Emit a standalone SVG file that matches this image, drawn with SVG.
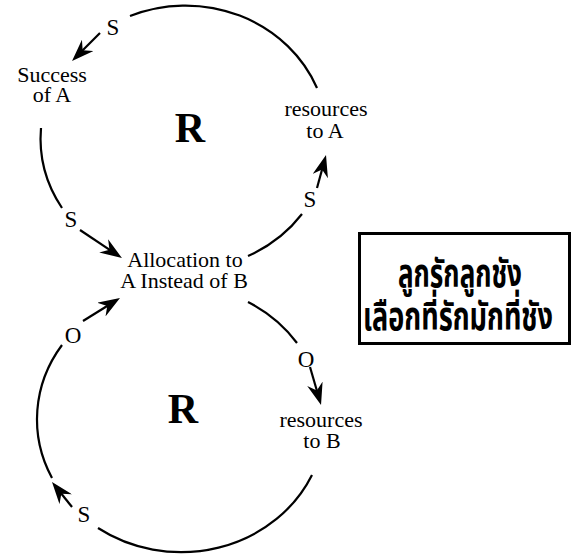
<svg xmlns="http://www.w3.org/2000/svg" width="577" height="556" viewBox="0 0 577 556">
  <style>
    .lbl { font-family: "Liberation Serif", "Times New Roman", serif; font-size: 22px; fill: #000; text-anchor: middle; }
    .loop { font-family: "Liberation Serif", "Times New Roman", serif; font-size: 42px; font-weight: bold; fill: #000; text-anchor: middle; }
    .pol { font-family: "Liberation Serif", "Times New Roman", serif; font-size: 23px; fill: #000; text-anchor: middle; }
    .thai { font-family: "Noto Sans Thai", "Loma", "Garuda", "Noto Sans", "DejaVu Sans", sans-serif; font-weight: bold; font-size: 39px; fill: #000; text-anchor: middle; }
    .arc { fill: none; stroke: #000; stroke-width: 2.2; }
    .link { fill: none; stroke: #000; stroke-width: 2.2; marker-end: url(#head); }
  </style>
  <defs>
    <marker id="head" viewBox="0 0 22 16" markerUnits="userSpaceOnUse" markerWidth="22" markerHeight="16" refX="14" refY="8" orient="auto">
      <path d="M0,0 L22,8 L0,16 L7,8 z" fill="#000"/>
    </marker>
  </defs>
  <rect width="577" height="556" fill="#fff"/>

  <!-- loop curves -->
  <g id="connectors">
    <!-- upper loop -->
    <path class="arc" d="M130,16 A142,132 0 0 1 317,88"/>
    <path class="arc" d="M41,128 A142,132 0 0 0 62,208"/>
    <path class="arc" d="M302,214 A142,132 0 0 1 248,256"/>
    <!-- lower loop -->
    <path class="arc" d="M248,302 A144,132 0 0 1 297,343"/>
    <path class="arc" d="M312,475 A144,132 0 0 1 98,528"/>
    <path class="arc" d="M52,478 A144,132 0 0 1 62,345"/>

    <!-- arrow shafts, each ends 8px short of its tip -->
    <line class="link" x1="100" y1="33" x2="77.7" y2="55.3"/>
    <line class="link" x1="80" y1="230" x2="115.3" y2="253.6"/>
    <line class="link" x1="317" y1="188" x2="323.9" y2="162.7"/>
    <line class="link" x1="310" y1="367" x2="318.8" y2="397.3"/>
    <line class="link" x1="83" y1="321" x2="113.2" y2="302.2"/>
    <line class="link" x1="72" y1="507" x2="57" y2="488.2"/>

    <!-- link polarities -->
    <text class="pol" x="113" y="35">S</text>
    <text class="pol" x="71" y="227">S</text>
    <text class="pol" x="310" y="207">S</text>
    <text class="pol" x="306" y="367">O</text>
    <text class="pol" x="73" y="343">O</text>
    <text class="pol" x="84" y="522">S</text>
  </g>

  <g id="success-a">
    <text class="lbl" x="52" y="82">Success</text>
    <text class="lbl" x="52" y="102">of A</text>
  </g>
  <g id="resources-a">
    <text class="lbl" x="326" y="116">resources</text>
    <text class="lbl" x="325" y="138">to A</text>
  </g>
  <g id="allocation">
    <text class="lbl" x="185" y="267">Allocation to</text>
    <text class="lbl" x="184" y="288">A Instead of B</text>
  </g>
  <g id="resources-b">
    <text class="lbl" x="321" y="427">resources</text>
    <text class="lbl" x="322" y="448">to B</text>
  </g>

  <g id="loop-upper"><text class="loop" x="190" y="142">R</text></g>
  <g id="loop-lower"><text class="loop" x="183" y="423">R</text></g>

  <g id="proverb">
    <rect x="359.5" y="233.5" width="210" height="110" fill="#fff" stroke="#000" stroke-width="3"/>
    <text class="thai" x="460" y="287" textLength="124" lengthAdjust="spacingAndGlyphs">ลูกรักลูกชัง</text>
    <text class="thai" x="458" y="330" textLength="190" lengthAdjust="spacingAndGlyphs">เลือกที่รักมักที่ชัง</text>
  </g>
</svg>
